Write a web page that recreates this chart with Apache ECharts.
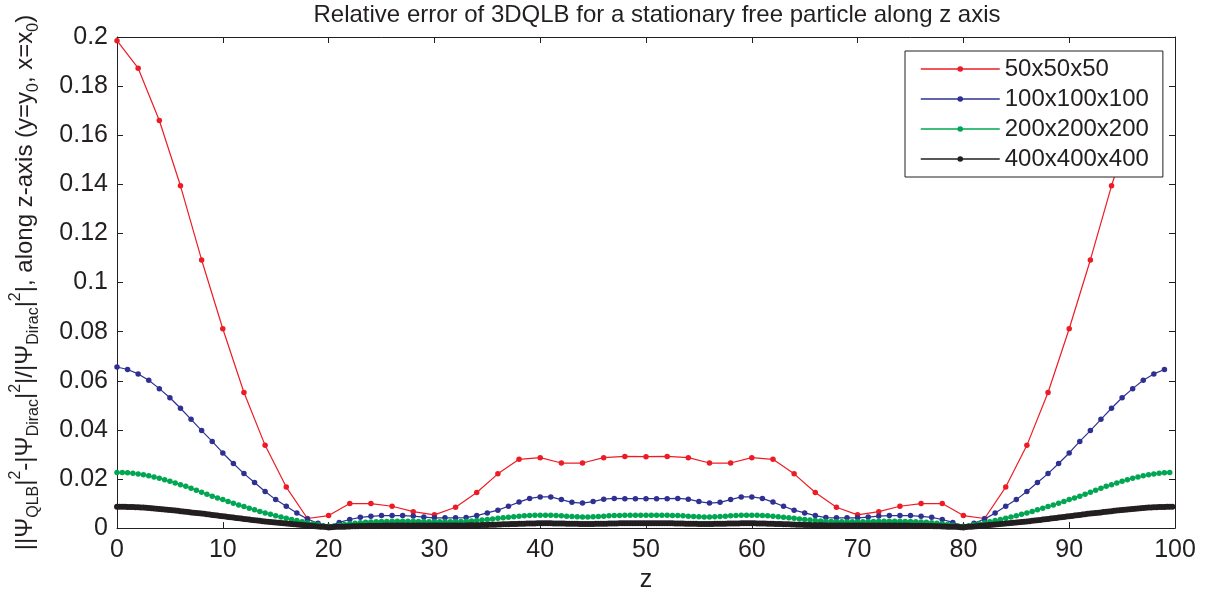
<!DOCTYPE html>
<html>
<head>
<meta charset="utf-8">
<script src="https://cdn.jsdelivr.net/npm/echarts@6/dist/echarts.min.js"></script>
<style>
  html, body { margin: 0; padding: 0; background: #fff; }
  #chart { width: 1224px; height: 598px; }
</style>
</head>
<body>
<div id="chart"></div>
<script>
// Grid resolutions and their sampling steps along z
const seriesNames = ['50x50x50', '100x100x100', '200x200x200', '400x400x400'];
const zSteps = [2, 1, 0.5, 0.25];

const xTickLabels = ['0', '10', '20', '30', '40', '50', '60', '70', '80', '90', '100'];
const yTickLabels = ['0', '0.02', '0.04', '0.06', '0.08', '0.1', '0.12', '0.14', '0.16', '0.18', '0.2'];

// 50x50x50, z = 0, 2, ..., 98
const err50 = [
  0.1985, 0.1873, 0.1660, 0.1394, 0.1092, 0.0812, 0.0552, 0.0337, 0.0167, 0.0039,
  0.0051, 0.0100, 0.0100, 0.0089, 0.0067, 0.0054, 0.0085, 0.0145, 0.0221, 0.0280,
  0.0287, 0.0265, 0.0265, 0.0287, 0.0292, 0.0291, 0.0292, 0.0287, 0.0265, 0.0265,
  0.0287, 0.0280, 0.0221, 0.0145, 0.0085, 0.0054, 0.0067, 0.0089, 0.0100, 0.0100,
  0.0051, 0.0039, 0.0167, 0.0337, 0.0552, 0.0812, 0.1092, 0.1394, 0.1660, 0.1873
];

// 100x100x100, z = 0, 1, ..., 99
const err100 = [
  0.0656, 0.0646, 0.0628, 0.0602, 0.0568, 0.0531, 0.0488, 0.0443, 0.0397, 0.0353,
  0.0306, 0.0263, 0.0222, 0.0186, 0.0149, 0.0116, 0.0089, 0.0061, 0.0037, 0.0020,
  0.0008, 0.0023, 0.0035, 0.0044, 0.0048, 0.0051, 0.0051, 0.0051, 0.0049, 0.0045,
  0.0042, 0.0042, 0.0042, 0.0043, 0.0051, 0.0062, 0.0073, 0.0089, 0.0106, 0.0121,
  0.0127, 0.0127, 0.0116, 0.0105, 0.0102, 0.0108, 0.0118, 0.0121, 0.0120, 0.0120,
  0.0120, 0.0120, 0.0120, 0.0121, 0.0118, 0.0108, 0.0102, 0.0105, 0.0116, 0.0127,
  0.0127, 0.0121, 0.0106, 0.0089, 0.0073, 0.0062, 0.0051, 0.0043, 0.0042, 0.0042,
  0.0042, 0.0045, 0.0049, 0.0051, 0.0051, 0.0051, 0.0048, 0.0044, 0.0035, 0.0023,
  0.0008, 0.0020, 0.0037, 0.0061, 0.0089, 0.0116, 0.0149, 0.0186, 0.0222, 0.0263,
  0.0306, 0.0353, 0.0397, 0.0443, 0.0488, 0.0531, 0.0568, 0.0602, 0.0628, 0.0646
];

// 200x200x200, z = 0, 0.5, ..., 99.5 (two samples per unit of z on each row)
const err200 = [
  0.0226, 0.0226,  0.0225, 0.0223,  0.0220, 0.0217,  0.0213, 0.0208,  0.0203, 0.0197,
  0.0191, 0.0184,  0.0177, 0.0170,  0.0162, 0.0154,  0.0146, 0.0138,  0.0130, 0.0123,
  0.0116, 0.0108,  0.0101, 0.0094,  0.0088, 0.0081,  0.0075, 0.0068,  0.0062, 0.0056,
  0.0050, 0.0045,  0.0040, 0.0035,  0.0031, 0.0026,  0.0022, 0.0018,  0.0014, 0.0010,
  0.0007, 0.0009,  0.0012, 0.0015,  0.0018, 0.0020,  0.0022, 0.0024,  0.0025, 0.0026,
  0.0027, 0.0027,  0.0028, 0.0028,  0.0028, 0.0028,  0.0028, 0.0027,  0.0027, 0.0026,
  0.0026, 0.0026,  0.0026, 0.0026,  0.0026, 0.0027,  0.0028, 0.0029,  0.0031, 0.0033,
  0.0035, 0.0037,  0.0040, 0.0042,  0.0044, 0.0046,  0.0048, 0.0050,  0.0051, 0.0052,
  0.0052, 0.0052,  0.0052, 0.0051,  0.0050, 0.0048,  0.0047, 0.0046,  0.0045, 0.0045,
  0.0046, 0.0047,  0.0048, 0.0050,  0.0051, 0.0051,  0.0052, 0.0052,  0.0052, 0.0052,
  0.0052, 0.0052,  0.0052, 0.0052,  0.0052, 0.0051,  0.0051, 0.0050,  0.0048, 0.0047,
  0.0046, 0.0045,  0.0045, 0.0046,  0.0047, 0.0048,  0.0050, 0.0051,  0.0052, 0.0052,
  0.0052, 0.0052,  0.0051, 0.0050,  0.0048, 0.0046,  0.0044, 0.0042,  0.0040, 0.0037,
  0.0035, 0.0033,  0.0031, 0.0029,  0.0028, 0.0027,  0.0026, 0.0026,  0.0026, 0.0026,
  0.0026, 0.0026,  0.0027, 0.0027,  0.0028, 0.0028,  0.0028, 0.0028,  0.0028, 0.0027,
  0.0027, 0.0026,  0.0025, 0.0024,  0.0022, 0.0020,  0.0018, 0.0015,  0.0012, 0.0009,
  0.0007, 0.0010,  0.0014, 0.0018,  0.0022, 0.0026,  0.0031, 0.0035,  0.0040, 0.0045,
  0.0050, 0.0056,  0.0062, 0.0068,  0.0075, 0.0081,  0.0088, 0.0094,  0.0101, 0.0108,
  0.0116, 0.0123,  0.0130, 0.0138,  0.0146, 0.0154,  0.0162, 0.0170,  0.0177, 0.0184,
  0.0191, 0.0197,  0.0203, 0.0208,  0.0213, 0.0217,  0.0220, 0.0223,  0.0225, 0.0226
];

// 400x400x400, z = 0, 0.25, ..., 99.75 (one unit of z per row)
const err400 = [
  0.0087, 0.0087, 0.0087, 0.0087,
  0.0086, 0.0086, 0.0086, 0.0085,
  0.0085, 0.0084, 0.0084, 0.0083,
  0.0082, 0.0081, 0.0080, 0.0079,
  0.0078, 0.0077, 0.0076, 0.0075,
  0.0074, 0.0073, 0.0072, 0.0071,
  0.0069, 0.0068, 0.0067, 0.0066,
  0.0064, 0.0063, 0.0062, 0.0060,
  0.0059, 0.0058, 0.0056, 0.0055,
  0.0053, 0.0052, 0.0051, 0.0049,
  0.0048, 0.0047, 0.0045, 0.0044,
  0.0043, 0.0041, 0.0040, 0.0039,
  0.0037, 0.0036, 0.0035, 0.0033,
  0.0032, 0.0031, 0.0030, 0.0028,
  0.0027, 0.0026, 0.0025, 0.0024,
  0.0023, 0.0022, 0.0021, 0.0020,
  0.0019, 0.0018, 0.0017, 0.0016,
  0.0015, 0.0014, 0.0013, 0.0012,
  0.0011, 0.0010, 0.0009, 0.0008,
  0.0007, 0.0006, 0.0005, 0.0004,
  0.0002, 0.0003, 0.0004, 0.0005,
  0.0005, 0.0006, 0.0006, 0.0007,
  0.0007, 0.0008, 0.0008, 0.0008,
  0.0009, 0.0009, 0.0009, 0.0010,
  0.0010, 0.0010, 0.0010, 0.0010,
  0.0010, 0.0011, 0.0011, 0.0011,
  0.0011, 0.0011, 0.0011, 0.0011,
  0.0011, 0.0011, 0.0011, 0.0011,
  0.0011, 0.0011, 0.0011, 0.0011,
  0.0011, 0.0011, 0.0011, 0.0011,
  0.0011, 0.0011, 0.0011, 0.0011,
  0.0011, 0.0011, 0.0011, 0.0011,
  0.0011, 0.0011, 0.0011, 0.0011,
  0.0011, 0.0012, 0.0012, 0.0012,
  0.0012, 0.0012, 0.0013, 0.0013,
  0.0013, 0.0014, 0.0014, 0.0014,
  0.0015, 0.0015, 0.0016, 0.0016,
  0.0016, 0.0017, 0.0017, 0.0017,
  0.0018, 0.0018, 0.0018, 0.0019,
  0.0019, 0.0019, 0.0019, 0.0020,
  0.0020, 0.0020, 0.0020, 0.0020,
  0.0020, 0.0019, 0.0019, 0.0019,
  0.0019, 0.0019, 0.0018, 0.0018,
  0.0018, 0.0018, 0.0018, 0.0017,
  0.0017, 0.0017, 0.0017, 0.0017,
  0.0017, 0.0018, 0.0018, 0.0018,
  0.0018, 0.0018, 0.0019, 0.0019,
  0.0019, 0.0019, 0.0020, 0.0020,
  0.0020, 0.0020, 0.0020, 0.0020,
  0.0020, 0.0020, 0.0020, 0.0020,
  0.0020, 0.0020, 0.0020, 0.0020,
  0.0020, 0.0020, 0.0020, 0.0020,
  0.0020, 0.0020, 0.0020, 0.0019,
  0.0019, 0.0019, 0.0019, 0.0018,
  0.0018, 0.0018, 0.0018, 0.0018,
  0.0017, 0.0017, 0.0017, 0.0017,
  0.0017, 0.0017, 0.0018, 0.0018,
  0.0018, 0.0018, 0.0018, 0.0019,
  0.0019, 0.0019, 0.0019, 0.0019,
  0.0020, 0.0020, 0.0020, 0.0020,
  0.0020, 0.0020, 0.0019, 0.0019,
  0.0019, 0.0019, 0.0018, 0.0018,
  0.0018, 0.0017, 0.0017, 0.0017,
  0.0016, 0.0016, 0.0016, 0.0015,
  0.0015, 0.0014, 0.0014, 0.0014,
  0.0013, 0.0013, 0.0013, 0.0012,
  0.0012, 0.0012, 0.0012, 0.0012,
  0.0011, 0.0011, 0.0011, 0.0011,
  0.0011, 0.0011, 0.0011, 0.0011,
  0.0011, 0.0011, 0.0011, 0.0011,
  0.0011, 0.0011, 0.0011, 0.0011,
  0.0011, 0.0011, 0.0011, 0.0011,
  0.0011, 0.0011, 0.0011, 0.0011,
  0.0011, 0.0011, 0.0011, 0.0011,
  0.0011, 0.0011, 0.0011, 0.0011,
  0.0010, 0.0010, 0.0010, 0.0010,
  0.0010, 0.0010, 0.0009, 0.0009,
  0.0009, 0.0008, 0.0008, 0.0008,
  0.0007, 0.0007, 0.0006, 0.0006,
  0.0005, 0.0005, 0.0004, 0.0003,
  0.0002, 0.0004, 0.0005, 0.0006,
  0.0007, 0.0008, 0.0009, 0.0010,
  0.0011, 0.0012, 0.0013, 0.0014,
  0.0015, 0.0016, 0.0017, 0.0018,
  0.0019, 0.0020, 0.0021, 0.0022,
  0.0023, 0.0024, 0.0025, 0.0026,
  0.0027, 0.0028, 0.0030, 0.0031,
  0.0032, 0.0033, 0.0035, 0.0036,
  0.0037, 0.0039, 0.0040, 0.0041,
  0.0043, 0.0044, 0.0045, 0.0047,
  0.0048, 0.0049, 0.0051, 0.0052,
  0.0053, 0.0055, 0.0056, 0.0058,
  0.0059, 0.0060, 0.0062, 0.0063,
  0.0064, 0.0066, 0.0067, 0.0068,
  0.0069, 0.0071, 0.0072, 0.0073,
  0.0074, 0.0075, 0.0076, 0.0077,
  0.0078, 0.0079, 0.0080, 0.0081,
  0.0082, 0.0083, 0.0084, 0.0084,
  0.0085, 0.0085, 0.0086, 0.0086,
  0.0086, 0.0087, 0.0087, 0.0087
];

const seriesValues = [err50, err100, err200, err400];
const seriesColors = ['#ed1c24', '#2e3192', '#00a651', '#231f20'];
const markerSizes = [5.5, 5.5, 5.5, 6];
const lineWidths = [1.2, 1.2, 1.2, 3];
const ink = '#231f20';
const fontFamily = '"Liberation Sans", Arial, Helvetica, sans-serif';

// pair each value with its z position on the sampling grid
function toPoints(values, step) {
  return values.map((v, i) => [i * step, v]);
}

const yName =
  '{n|||Ψ}{s|QLB}{n||}{p|2}{n|-|Ψ}{s|Dirac}{n||}{p|2}{n||/|Ψ}{s|Dirac}{n||}{p|2}' +
  '{n||, along z-axis (y=y}{s|0}{n|, x=x}{s|0}{n|)}';

const chart = echarts.init(document.getElementById('chart'), null, { renderer: 'canvas' });

const axisCommon = {
  type: 'value',
  axisLine: { show: true, onZero: false, lineStyle: { color: ink, width: 1 } },
  axisTick: { show: true, inside: true, length: 6, lineStyle: { color: ink, width: 1 } },
  splitLine: { show: false }
};

chart.setOption({
  animation: false,
  backgroundColor: '#ffffff',
  textStyle: { fontFamily: fontFamily },
  title: {
    text: 'Relative error of 3DQLB for a stationary free particle along z axis',
    left: 652,
    textAlign: 'center',
    top: -2,
    textStyle: { fontSize: 24, fontWeight: 'normal', color: ink, fontFamily: fontFamily }
  },
  grid: { left: 117, right: 49, top: 37, bottom: 66, containLabel: false },
  legend: {
    orient: 'vertical',
    left: 905,
    top: 51,
    padding: [6, 14, 6, 15],
    itemWidth: 79,
    itemHeight: 7,
    itemGap: 6,
    backgroundColor: '#ffffff',
    borderColor: ink,
    borderWidth: 1,
    borderRadius: 0,
    lineStyle: { width: 1.5 },
    textStyle: { fontSize: 24, color: ink, fontFamily: fontFamily },
    data: seriesNames
  },
  xAxis: [
    Object.assign({}, axisCommon, {
      position: 'bottom',
      min: 0, max: 100, interval: 10,
      name: 'z',
      nameLocation: 'middle',
      nameGap: 33,
      nameTextStyle: { fontSize: 25, color: ink, fontFamily: fontFamily },
      axisLabel: {
        fontSize: 25, color: ink, margin: 10, fontFamily: fontFamily,
        formatter: (v) => xTickLabels[Math.round(v / 10)]
      }
    }),
    Object.assign({}, axisCommon, {
      position: 'top',
      min: 0, max: 100, interval: 10,
      axisLabel: { show: false }
    })
  ],
  yAxis: [
    Object.assign({}, axisCommon, {
      position: 'left',
      min: 0, max: 0.2, interval: 0.02,
      name: yName,
      nameLocation: 'middle',
      nameGap: 75,
      nameTextStyle: {
        color: ink,
        fontFamily: fontFamily,
        rich: {
          n: { fontSize: 24, lineHeight: 34, verticalAlign: 'middle', color: ink, fontFamily: fontFamily },
          s: { fontSize: 16, lineHeight: 16, verticalAlign: 'bottom', color: ink, fontFamily: fontFamily },
          p: { fontSize: 16, lineHeight: 16, verticalAlign: 'top', color: ink, fontFamily: fontFamily }
        }
      },
      axisLabel: {
        fontSize: 25, color: ink, margin: 9, fontFamily: fontFamily,
        formatter: (v) => yTickLabels[Math.round(v / 0.02)]
      }
    }),
    Object.assign({}, axisCommon, {
      position: 'right',
      min: 0, max: 0.2, interval: 0.02,
      axisLabel: { show: false }
    })
  ],
  series: seriesNames.map((name, k) => ({
    name: name,
    type: 'line',
    xAxisIndex: 0,
    yAxisIndex: 0,
    data: toPoints(seriesValues[k], zSteps[k]),
    symbol: 'circle',
    symbolSize: markerSizes[k],
    showSymbol: true,
    showAllSymbol: true,
    clip: false,
    color: seriesColors[k],
    itemStyle: { color: seriesColors[k], borderWidth: 0 },
    lineStyle: { color: seriesColors[k], width: lineWidths[k] },
    emphasis: { disabled: true },
    z: 2 + k
  }))
});
</script>
</body>
</html>
